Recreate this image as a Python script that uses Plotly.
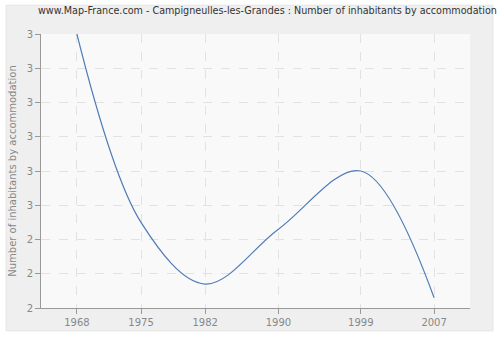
import plotly.graph_objects as go

years = [1968, 1975, 1982, 1990, 1999, 2007]
values = [3.0, 2.45, 2.27, 2.43, 2.60, 2.23]
ytick_vals = [2.2, 2.3, 2.4, 2.5, 2.6, 2.7, 2.8, 2.9, 3.0]
ytick_text = ["2", "2", "2", "3", "3", "3", "3", "3", "3"]
title = "www.Map-France.com - Campigneulles-les-Grandes : Number of inhabitants by accommodation"
ytitle = "Number of inhabitants by accommodation"

W, H = 500, 340
L, R, T, B = 40, 470, 34, 310

def px(x):
    return (x - L) / (R - L)

def py(y):
    return (B - y) / (B - T)

fig = go.Figure()
fig.add_trace(go.Scatter(
    x=years, y=values, mode="lines",
    line=dict(color="#4f7cb6", width=1.2, shape="spline", smoothing=1.0),
    hoverinfo="skip", showlegend=False, cliponaxis=True,
))

fig.update_layout(
    width=W, height=H,
    margin=dict(l=L, r=W - R, t=T, b=H - B, pad=0),
    paper_bgcolor="white",
    plot_bgcolor="#f9f9f9",
    font=dict(family="DejaVu Sans", size=10, color="#888888"),
    title=dict(text=title, x=px(267), xref="paper", xanchor="center",
               y=1 - 11 / H, yref="container", yanchor="middle",
               font=dict(family="DejaVu Sans", size=9.6, color="#333333")),
    xaxis=dict(range=[1964.08, 2010.92], tickvals=years,
               ticktext=[str(y) for y in years],
               showgrid=True, gridcolor="#e2e2e2", griddash="dash", gridwidth=1,
               showline=True, linecolor="#999999", linewidth=1,
               ticks="outside", ticklen=5, tickcolor="#999999",
               zeroline=False, fixedrange=True,
               tickfont=dict(size=10, color="#888888")),
    yaxis=dict(range=[2.2, 3.0], tickvals=ytick_vals, ticktext=ytick_text,
               showgrid=True, gridcolor="#e2e2e2", griddash="dash", gridwidth=1,
               showline=True, linecolor="#999999", linewidth=1,
               ticks="outside", ticklen=5, tickcolor="#999999",
               zeroline=False, fixedrange=True,
               title=dict(text=ytitle, standoff=8, font=dict(size=10, color="#888888")),
               tickfont=dict(size=10, color="#888888")),
    shapes=[
        dict(type="rect", xref="paper", yref="paper", layer="below",
             x0=px(5), x1=px(493), y0=py(333), y1=py(5),
             fillcolor="#efefef", line=dict(color="#e4e4e4", width=1)),
        dict(type="rect", xref="paper", yref="paper", layer="below",
             x0=0, x1=1, y0=0, y1=1,
             fillcolor="#f9f9f9", line=dict(width=0)),
    ],
)

fig.write_html("out.html")
